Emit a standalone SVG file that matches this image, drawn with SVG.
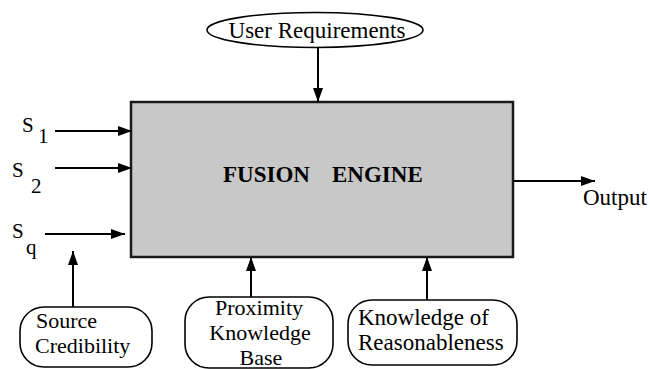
<svg xmlns="http://www.w3.org/2000/svg" width="650" height="369" viewBox="0 0 650 369">
<style>
text{font-family:"Liberation Serif","Times New Roman",serif}
.lbl{font-size:23px}
.ml{font-size:22px}
.sym{font-size:21px}
.box{fill:#fff;stroke:#000;stroke-width:1.6}
.conn{stroke:#000;stroke-width:2;fill:none}
</style>
<defs>
<marker id="ah" markerUnits="userSpaceOnUse" markerWidth="14" markerHeight="10" refX="14" refY="5" orient="auto">
<path d="M0,0 L14,5 L0,10 Z" fill="#000"/>
</marker>
</defs>
<rect width="650" height="369" fill="#fff"/>
<g id="engine">
<rect x="131" y="102" width="382" height="155" fill="#c8c8c8" stroke="#1a1a1a" stroke-width="2.5"/>
<text x="223" y="182" font-size="23" font-weight="bold">FUSION</text>
<text x="332" y="182" font-size="23" font-weight="bold">ENGINE</text>
</g>
<g id="user-req">
<ellipse cx="315" cy="30" rx="108" ry="17.5" class="box"/>
<text x="317" y="38" class="lbl" text-anchor="middle">User Requirements</text>
</g>
<g id="s1"><text x="22" y="132" class="sym">S</text><text x="38" y="143" class="sym">1</text></g>
<g id="s2"><text x="12" y="177" class="sym">S</text><text x="31" y="193" class="sym">2</text></g>
<g id="sq"><text x="12" y="238" class="sym">S</text><text x="26" y="254" class="sym">q</text></g>
<g id="output"><text x="583" y="205" class="lbl">Output</text></g>
<g id="source-cred">
<rect x="20" y="307" width="132" height="60" rx="24" class="box"/>
<text x="36" y="328" class="ml">Source</text>
<text x="35" y="353" class="ml">Credibility</text>
</g>
<g id="proximity">
<rect x="185" y="297" width="148" height="71" rx="24" class="box"/>
<text x="259" y="315" class="ml" text-anchor="middle">Proximity</text>
<text x="260" y="340" class="ml" text-anchor="middle">Knowledge</text>
<text x="261" y="365" class="ml" text-anchor="middle">Base</text>
</g>
<g id="reasonable">
<rect x="348" y="300" width="169" height="65" rx="24" class="box"/>
<text x="358" y="325" class="lbl">Knowledge of</text>
<text x="358" y="350" class="lbl">Reasonableness</text>
</g>
<g id="connectors">
<line x1="318" y1="48" x2="318" y2="102" class="conn" marker-end="url(#ah)"/>
<line x1="55" y1="131" x2="132" y2="131" class="conn" marker-end="url(#ah)"/>
<line x1="55" y1="168" x2="132" y2="168" class="conn" marker-end="url(#ah)"/>
<line x1="45" y1="234" x2="125" y2="234" class="conn" marker-end="url(#ah)"/>
<line x1="513" y1="181" x2="595" y2="181" class="conn" marker-end="url(#ah)"/>
<line x1="73" y1="307" x2="73" y2="251" class="conn" marker-end="url(#ah)"/>
<line x1="251" y1="297" x2="251" y2="257" class="conn" marker-end="url(#ah)"/>
<line x1="427" y1="300" x2="427" y2="257" class="conn" marker-end="url(#ah)"/>
</g>
</svg>
